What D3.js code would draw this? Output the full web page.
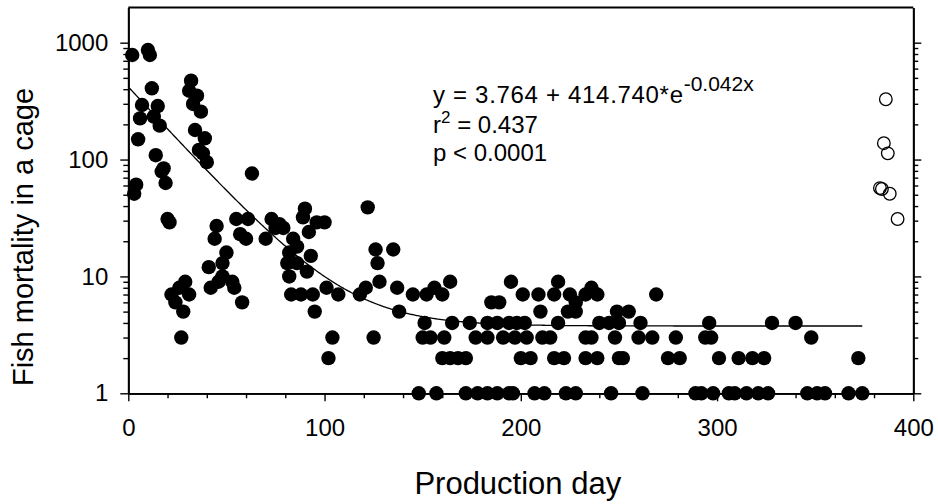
<!DOCTYPE html>
<html>
<head>
<meta charset="utf-8">
<script src="https://cdn.jsdelivr.net/npm/d3@7"></script>
<style>
  body { margin: 0; background: #fff; }
  svg text { font-family: "Liberation Sans", Arial, Helvetica, sans-serif; fill: #000; }
</style>
</head>
<body>
<svg id="chart" width="938" height="504"></svg>
<script>
// Daily mortality per cage during the production cycle
const cageDays = [
  2, 10, 11, 12, 7, 15, 6, 13, 16, 5, 14, 18, 17, 19, 4, 3,
  32, 31, 35, 33, 37, 34, 39, 36, 38, 40, 63,
  20, 21, 45, 44, 55, 61, 57, 60, 73, 77, 75, 79, 70, 84, 82, 81, 86,
  50, 48, 41, 48, 53, 46, 42, 54, 58, 29, 26, 22, 31, 24, 28, 27,
  90, 89, 96, 100, 92, 86, 93, 91, 82, 83, 88, 94, 95, 101, 107, 104, 102,
  122, 126, 135, 127, 128, 121, 118, 137, 125, 138,
  145, 152, 156, 160, 164, 151, 150, 154, 161, 160, 164, 168, 172, 165, 174, 183, 177, 183,
  148, 157, 172, 178, 183,
  195, 219, 236, 269, 201, 209, 217, 225, 233, 239, 185, 189, 228, 210, 224, 228, 249, 255,
  188, 194, 198, 202, 219, 240, 245, 250, 261,
  191, 197, 203, 211, 215, 233, 236, 248, 260, 267, 279,
  200, 205, 217, 222, 233, 239, 250, 252, 275, 281,
  188, 194, 196, 207, 212, 223, 228, 246, 262,
  296, 328, 340, 294, 297, 348, 301, 311, 318, 324, 372,
  289, 292, 298, 306, 309, 315, 321, 326, 346, 351, 355, 367, 374
];
const cageMortality = [
  785, 866, 785, 407, 293, 287, 225, 233, 195, 149, 109, 84, 79, 63, 61, 51,
  473, 388, 352, 299, 257, 179, 152, 121, 113, 95, 76,
  31, 29, 27, 21, 31, 31, 23, 21, 31, 28, 26, 26, 21, 21, 16, 13, 13,
  16, 13, 12, 10, 9, 9, 8, 8, 6, 9, 8, 7, 7, 6, 5, 3,
  38, 32, 29, 29, 24, 18, 15, 11, 10, 7, 7, 7, 5, 8, 7, 3, 2,
  39, 17, 17, 13, 9, 8, 7, 8, 3, 5,
  7, 7, 8, 7, 9, 4, 3, 3, 3, 2, 2, 2, 2, 4, 4, 4, 3, 3,
  1, 1, 1, 1, 1,
  9, 9, 8, 7, 7, 7, 7, 7, 7, 7, 6, 6, 6, 5, 5, 5, 5, 5,
  4, 4, 4, 4, 4, 4, 4, 4, 4,
  3, 3, 3, 3, 3, 3, 3, 3, 3, 3, 3,
  2, 2, 2, 2, 2, 2, 2, 2, 2, 2,
  1, 1, 1, 1, 1, 1, 1, 1, 1,
  4, 4, 4, 3, 3, 3, 2, 2, 2, 2, 2,
  1, 1, 1, 1, 1, 1, 1, 1, 1, 1, 1, 1, 1
];

// Late-season observations (open symbols, not part of the fit)
const laterDays = [383, 384, 385, 386, 387, 388, 392];
const laterMortality = [57, 56, 138, 328, 113, 51, 31];

// Exponential decay fit: y = a + b * exp(-k * day)
const fitA = 3.764;
const fitB = 414.740;
const fitK = 0.042;
const fitDayStart = 0;
const fitDayEnd = 374;

const xTickLabels = [0, 100, 200, 300, 400];
const yTickLabels = [1, 10, 100, 1000];

const svg = d3.select("#chart");

const x = d3.scaleLinear().domain([0, 400]).range([128.3, 913.3]);
const y = d3.scaleLog().domain([1, 2000]).range([393.3, 7.5]);

const xMinor = d3.range(0, 401, 20).filter(d => !xTickLabels.includes(d));
const yMinor = [];
[1, 10, 100, 1000].forEach(p => {
  for (let m = 2; m <= 9; m++) { if (p * m < 2000) yMinor.push(p * m); }
});

function styleAxis(g) {
  g.select(".domain").attr("stroke", "#000").attr("stroke-width", 1.8);
  g.selectAll(".tick line").attr("stroke", "#000").attr("stroke-width", 1.4);
  g.selectAll(".tick text").attr("font-size", 24).attr("fill", "#000")
    .attr("font-family", "\"Liberation Sans\", Arial, sans-serif");
}

// bottom axis
svg.append("g").attr("transform", `translate(0,${y(1)})`)
  .call(d3.axisBottom(x).tickValues(xMinor).tickSize(5).tickSizeOuter(0).tickFormat(""))
  .call(styleAxis);
svg.append("g").attr("transform", `translate(0,${y(1)})`)
  .call(d3.axisBottom(x).tickValues(xTickLabels).tickSize(8).tickSizeOuter(0).tickPadding(18)
    .tickFormat(d3.format("d")))
  .call(styleAxis);

// left axis
svg.append("g").attr("transform", `translate(${x(0)},0)`)
  .call(d3.axisLeft(y).tickValues(yMinor).tickSize(5).tickSizeOuter(0).tickFormat(""))
  .call(styleAxis);
svg.append("g").attr("transform", `translate(${x(0)},0)`)
  .call(d3.axisLeft(y).tickValues(yTickLabels).tickSize(8).tickSizeOuter(0).tickPadding(12)
    .tickFormat(d3.format("d")))
  .call(styleAxis);

// right axis (mirrored ticks, no labels)
svg.append("g").attr("transform", `translate(${x(400)},0)`)
  .call(d3.axisRight(y).tickValues(yMinor).tickSize(5).tickSizeOuter(0).tickFormat(""))
  .call(styleAxis);
svg.append("g").attr("transform", `translate(${x(400)},0)`)
  .call(d3.axisRight(y).tickValues(yTickLabels).tickSize(8).tickSizeOuter(0).tickFormat(""))
  .call(styleAxis);

// top frame line
svg.append("line")
  .attr("x1", x(0)).attr("x2", x(400))
  .attr("y1", y(2000)).attr("y2", y(2000))
  .attr("stroke", "#000").attr("stroke-width", 1.8);

// fitted curve
const fitLine = d3.line()
  .x(d => x(d))
  .y(d => y(fitA + fitB * Math.exp(-fitK * d)));
svg.append("path")
  .datum(d3.range(fitDayStart, fitDayEnd + 0.5, 0.5))
  .attr("d", fitLine)
  .attr("fill", "none")
  .attr("stroke", "#000")
  .attr("stroke-width", 1.3);

// filled symbols
svg.append("g").selectAll("circle")
  .data(cageDays.map((d, i) => [d, cageMortality[i]]))
  .join("circle")
  .attr("cx", d => x(d[0]))
  .attr("cy", d => y(d[1]))
  .attr("r", 7.2)
  .attr("fill", "#000");

// open symbols
svg.append("g").selectAll("circle")
  .data(laterDays.map((d, i) => [d, laterMortality[i]]))
  .join("circle")
  .attr("cx", d => x(d[0]))
  .attr("cy", d => y(d[1]))
  .attr("r", 6.3)
  .attr("fill", "none")
  .attr("stroke", "#000")
  .attr("stroke-width", 1.3);

// fit annotation
const ann = svg.append("g").attr("font-size", 24);
const eq = ann.append("text").attr("x", 433).attr("y", 103);
eq.append("tspan").attr("textLength", 250).attr("lengthAdjust", "spacing")
  .text("y = 3.764 + 414.740*e");
eq.append("tspan").attr("dy", -12).attr("font-size", 21).text("-0.042x");

const r2 = ann.append("text").attr("x", 433).attr("y", 133);
r2.append("tspan").text("r");
r2.append("tspan").attr("dy", -10).attr("font-size", 17).text("2");
r2.append("tspan").attr("dy", 10).text(" = 0.437");

ann.append("text").attr("x", 433).attr("y", 161).text("p < 0.0001");

// axis titles
svg.append("text")
  .attr("x", x(200) - 3).attr("y", 494)
  .attr("text-anchor", "middle")
  .attr("font-size", 31)
  .text("Production day");

svg.append("text")
  .attr("transform", "translate(33,237) rotate(-90)")
  .attr("text-anchor", "middle")
  .attr("font-size", 29)
  .text("Fish mortality in a cage");
</script>
</body>
</html>
